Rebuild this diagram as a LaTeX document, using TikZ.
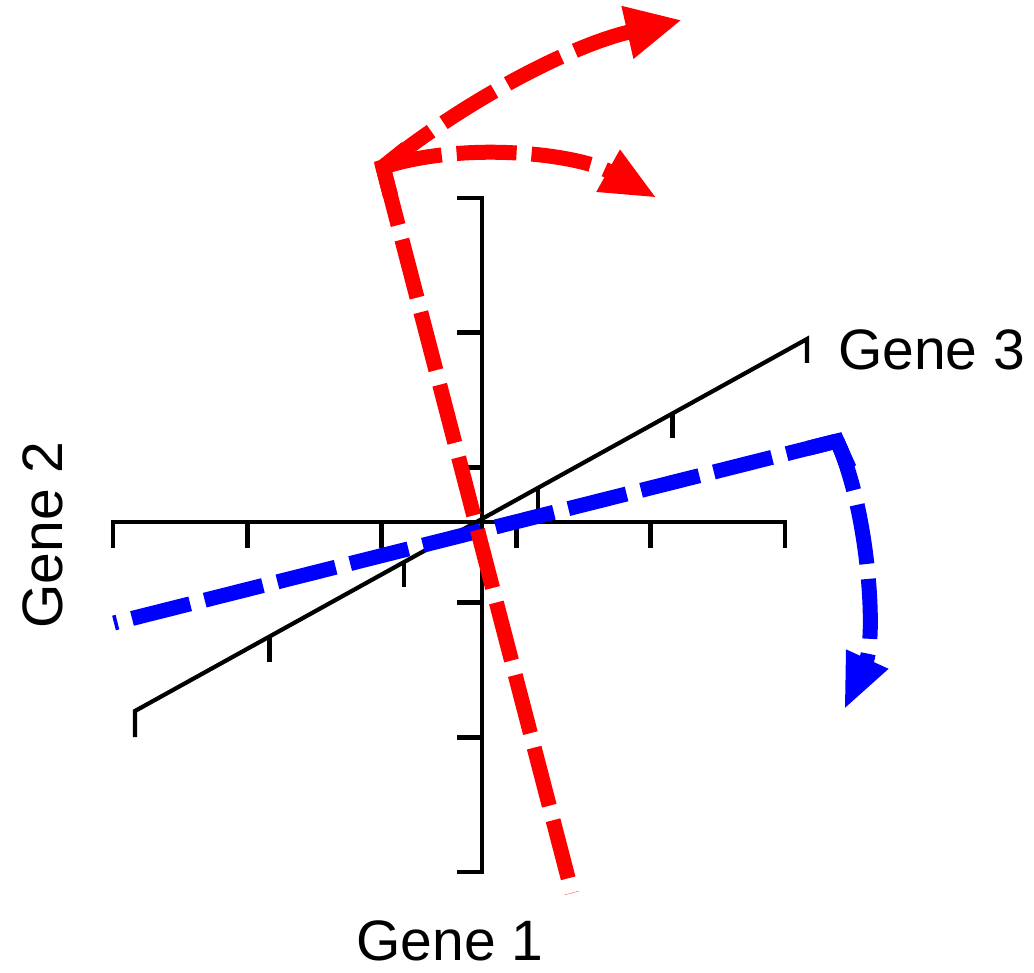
\documentclass[tikz,border=0pt]{standalone}
\usepackage{fontspec}
\setmainfont{Liberation Sans}
\usetikzlibrary{arrows.meta,calc}
\begin{document}
\begin{tikzpicture}[x=1pt,y=-1pt,
  axisline/.style={line width=4.8pt, line join=miter},
  diagline/.style={line width=4.2pt, line join=miter},
  reddash/.style={red, line width=15pt, dash pattern=on 60pt off 15pt},
  bluedash/.style={blue, line width=15pt, dash pattern=on 60pt off 15pt, dash phase=8pt},
  solidjoin/.style={line width=15pt, line join=miter},
  redtipa/.style={-{Triangle[length=56pt,width=50pt]}},
  redtipb/.style={-{Triangle[length=56pt,width=44pt]}},
  bluetip/.style={-{Triangle[length=56pt,width=42pt]}},
  genelabel/.style={font=\fontsize{57}{68}\selectfont, inner sep=0pt},
]
\useasboundingbox (0,0) rectangle (1034,973);
% axes
\coordinate (h1) at (113,522);
\coordinate (h2) at (785,522);
\coordinate (v1) at (482,198);
\coordinate (v2) at (482,872);
\coordinate (d1) at (135,711);
\coordinate (d2) at (807,339);
\draw[axisline] ($(h1)+(0,26)$) -- (h1) -- (h2) -- ++(0,26);
\foreach \k in {1,...,4} \draw[axisline] ($(h1)!\k/5!(h2)$) -- ++(0,26);
\draw[axisline] ($(v1)+(-25,0)$) -- (v1) -- (v2) -- ++(-25,0);
\foreach \k in {1,...,4} \draw[axisline] ($(v1)!\k/5!(v2)$) -- ++(-25,0);
\draw[diagline] ($(d1)+(0,26)$) -- (d1) -- (d2) -- ++(0,24);
\foreach \k in {1,...,4} \draw[diagline] ($(d1)!\k/5!(d2)$) -- ++(0,25);
% blue
\coordinate (bc) at (837,441);
\coordinate (bl) at (114,623);
\coordinate (bt) at (844,710);
\coordinate (bu1) at (870,515);
\coordinate (bu2) at (876,640);
\draw[bluedash] (bc) -- (bl);
\draw[bluedash, bluetip] (bc) .. controls (bu1) and (bu2) .. (bt);
\draw[blue, solidjoin] ($(bc)!30pt!(bl)$) -- (bc) -- ($(bc)!30pt!(bu1)$);
% red
\coordinate (rc) at (383,167);
\coordinate (rb) at (572,893);
\coordinate (rt1) at (682,20);
\coordinate (rt2) at (657,198);
\coordinate (ra1) at (466,100);
\coordinate (ra2) at (572,45);
\coordinate (rl1) at (470,140);
\coordinate (rl2) at (580,155);
\draw[reddash] (rc) -- (rb);
\draw[reddash, redtipa] (rc) .. controls (ra1) and (ra2) .. (rt1);
\draw[reddash, redtipb] (rc) .. controls (rl1) and (rl2) .. (rt2);
\draw[red, solidjoin] ($(rc)!30pt!(rb)$) -- (rc) -- ($(rc)!30pt!(ra1)$);
\draw[red, solidjoin] ($(rc)!30pt!(rb)$) -- (rc) -- ($(rc)!30pt!(rl1)$);
% labels
\node[genelabel, anchor=base] (g1) at (450,960) {Gene 1};
\node[genelabel, anchor=base west] (g3) at (838,370) {Gene 3};
\node[genelabel, anchor=base, rotate=90] (g2) at (62,535) {Gene 2};
\end{tikzpicture}
\end{document}
